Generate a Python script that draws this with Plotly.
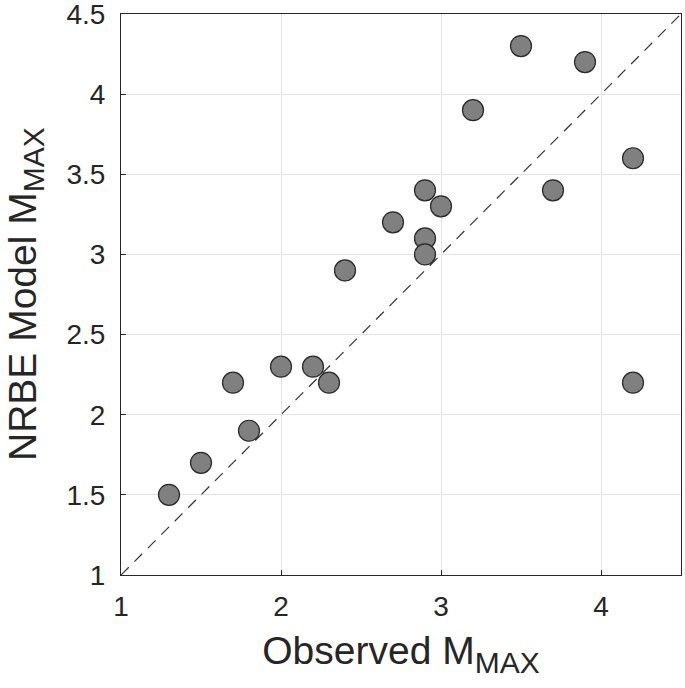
import plotly.graph_objects as go

observed = [1.3, 1.5, 1.7, 1.8, 2.0, 2.2, 2.3, 2.4, 2.7, 2.9, 2.9, 2.9, 3.0, 3.2, 3.5, 3.7, 3.9, 4.2, 4.2]
model = [1.5, 1.7, 2.2, 1.9, 2.3, 2.3, 2.2, 2.9, 3.2, 3.4, 3.1, 3.0, 3.3, 3.9, 4.3, 3.4, 4.2, 3.6, 2.2]
one_to_one = [1, 4.5]
x_ticks = [1, 2, 3, 4]
y_ticks = [1, 1.5, 2, 2.5, 3, 3.5, 4, 4.5]
y_tick_text = ["1", "1.5", "2", "2.5", "3", "3.5", "4", "4.5"]
x_title = "Observed M"
y_title = "NRBE Model M"
subscript = "MAX"

font_family = "Liberation Sans, Arial, sans-serif"
txt = "#262626"

fig = go.Figure()
fig.add_trace(go.Scatter(x=one_to_one, y=one_to_one, mode="lines",
                         line=dict(color="#333333", width=1.2, dash="11px,8px"),
                         hoverinfo="skip", showlegend=False))
fig.add_trace(go.Scatter(x=observed, y=model, mode="markers",
                         marker=dict(size=21, color="#808080",
                                     line=dict(color="#262626", width=1.2)),
                         showlegend=False))

axis_common = dict(showline=True, linecolor=txt, linewidth=1, mirror=True,
                   ticks="inside", ticklen=5, tickcolor=txt,
                   showgrid=True, gridcolor="#e3e3e3", gridwidth=1,
                   zeroline=False, automargin=False, ticklabeloverflow="allow",
                   tickfont=dict(size=28, color=txt, family=font_family))

sub = "<sub><span style='font-size:30px'>" + subscript + "</span></sub>"

fig.update_layout(
    width=685, height=688,
    margin=dict(l=121, r=4, t=14, b=113),
    paper_bgcolor="white", plot_bgcolor="white",
    font=dict(family=font_family, color=txt),
    xaxis=dict(range=[1, 4.5], tickvals=x_ticks, ticktext=[str(v) for v in x_ticks],
               ticklabelstandoff=6,
               title=dict(text=x_title + sub, font=dict(size=39, color=txt), standoff=16),
               **axis_common),
    yaxis=dict(range=[1, 4.5], tickvals=y_ticks, ticktext=y_tick_text,
               ticklabelstandoff=9,
               **axis_common),
)
fig.add_annotation(text=y_title + sub, xref="paper", yref="paper", x=0, y=0.5,
                   xanchor="left", yanchor="middle", xshift=-121, textangle=-90,
                   borderpad=0, showarrow=False,
                   font=dict(size=39, color=txt, family=font_family))
fig.write_html("out.html", config={"displayModeBar": False},
               post_script="document.body.style.margin='0';document.body.style.overflow='hidden';")
